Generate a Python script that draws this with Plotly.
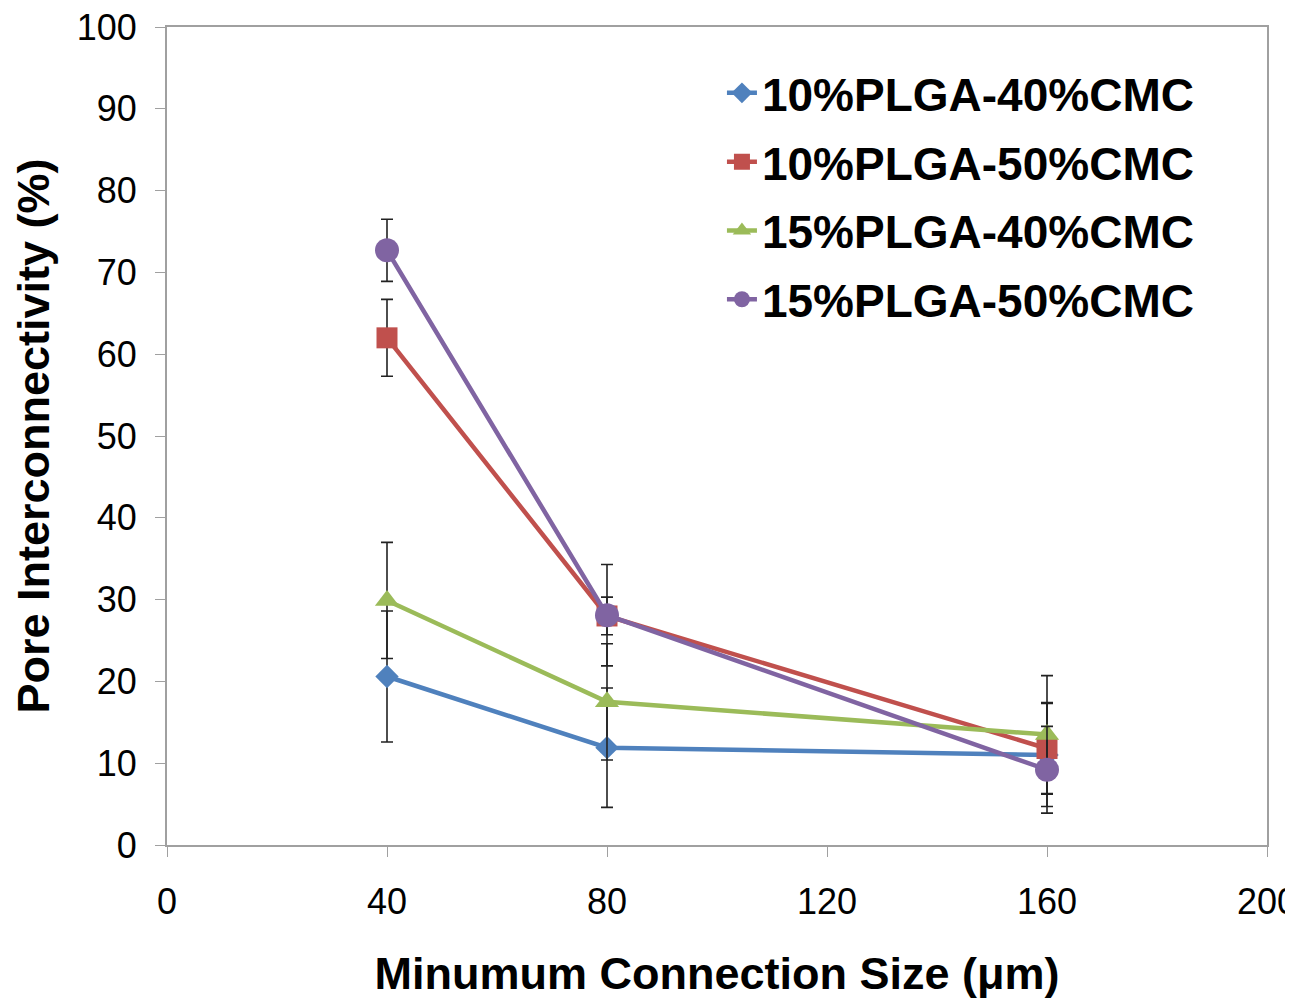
import plotly.graph_objects as go

x_vals = [40, 80, 160]
series_names = ["10%PLGA-40%CMC", "10%PLGA-50%CMC", "15%PLGA-40%CMC", "15%PLGA-50%CMC"]
blue_y = [20.6, 11.9, 11.0]
blue_err = [8.0, 7.3, 6.3]
red_y = [62.0, 28.0, 11.8]
red_err = [4.7, 2.3, 5.6]
green_y = [29.9, 17.5, 13.5]
green_err = [7.1, 7.1, 7.2]
purple_y = [72.7, 28.1, 9.2]
purple_err = [3.8, 6.2, 5.3]

colors = ["#4F81BD", "#C0504D", "#9BBB59", "#8064A2"]
symbols = ["diamond", "square", "triangle-up", "circle"]
sizes = [18, 21, 21, 24]
ys = [blue_y, red_y, green_y, purple_y]
errs = [blue_err, red_err, green_err, purple_err]

fig = go.Figure()
for i in range(4):
    fig.add_trace(go.Scatter(
        x=x_vals, y=ys[i], name=series_names[i], mode="lines+markers",
        line=dict(color=colors[i], width=4.5),
        marker=dict(symbol=symbols[i], size=sizes[i], color=colors[i]),
        error_y=dict(type="data", array=errs[i], visible=True, color="#222222", thickness=1.6, width=6),
        legendgroup="g%d" % i,
    ))

fig.update_layout(
    width=1285, height=991,
    margin=dict(l=159, r=26, t=19, b=154),
    plot_bgcolor="white", paper_bgcolor="white",
    font=dict(family="Liberation Sans, Arial, sans-serif", color="black"),
    showlegend=True,
    legend=dict(x=0.5045, y=0.964, xanchor="left", yanchor="top",
                font=dict(size=46, family="Liberation Sans, Arial, sans-serif", color="black", weight="bold"),
                bgcolor="rgba(0,0,0,0)", tracegroupgap=6, itemwidth=30),
)
fig.update_xaxes(
    range=[0, 200], tickvals=[0, 40, 80, 120, 160, 200], ticks="outside", ticklen=10, tickcolor="#A0A0A0",
    showline=True, linecolor="#A0A0A0", linewidth=2, mirror=True, showgrid=False, zeroline=False,
    tickfont=dict(size=36), ticklabelstandoff=14, automargin=False, ticklabeloverflow="allow",
    title=dict(text="Minumum Connection Size (μm)", font=dict(size=45, weight="bold"), standoff=48),
)
fig.update_yaxes(
    range=[0, 100], tickvals=list(range(0, 101, 10)), ticks="outside", ticklen=10, tickcolor="#A0A0A0",
    showline=True, linecolor="#A0A0A0", linewidth=2, mirror=True, showgrid=False, zeroline=False,
    tickfont=dict(size=36), ticklabelstandoff=11, automargin=False, ticklabeloverflow="allow",
    title=dict(text="Pore Interconnectivity (%)", font=dict(size=45, weight="bold"), standoff=35),
)
fig.write_html("out.html")
